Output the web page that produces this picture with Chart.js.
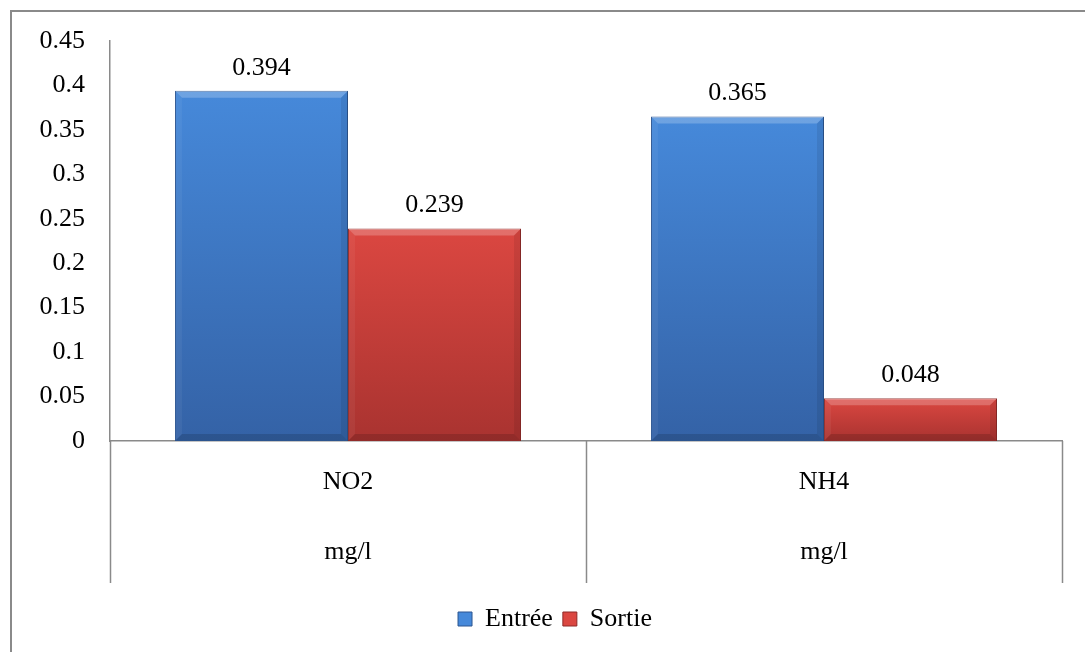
<!DOCTYPE html>
<html lang="fr">
<head>
<meta charset="utf-8">
<title>NO2 / NH4 - Entrée / Sortie</title>
<script src="https://cdn.jsdelivr.net/npm/chart.js@4/dist/chart.umd.min.js"></script>
<style>
    html, body { margin: 0; padding: 0; background: #ffffff; }
    #chart { display: block; }
</style>
</head>
<body>
<canvas id="chart" width="1085" height="652"></canvas>
<script>
// ==================== ДАННЫЕ ====================

const categories = ['NO2', 'NH4'];
const units = ['mg/l', 'mg/l'];
const entreeValues = [0.394, 0.365];
const sortieValues = [0.239, 0.048];
const yTicks = [0, 0.05, 0.1, 0.15, 0.2, 0.25, 0.3, 0.35, 0.4, 0.45];

const FONT = "'Liberation Serif', 'Times New Roman', serif";
const GRAY = '#8a8a8a';
const BLUE = ['#4689da', '#3462a6'];
const RED = ['#db4741', '#a93330'];

// градиент сверху вниз по каждому столбцу
function barGradient(context, topColor, bottomColor) {
    const chart = context.chart;
    const area = chart.chartArea;
    if (!area || typeof context.raw !== 'number') return topColor;
    const yScale = chart.scales.y;
    const yTop = yScale.getPixelForValue(context.raw);
    const yBase = yScale.getPixelForValue(0);
    const g = chart.ctx.createLinearGradient(0, yTop, 0, yBase);
    g.addColorStop(0, topColor);
    g.addColorStop(1, bottomColor);
    return g;
}

// ==================== ПЛАГИНЫ ====================

// рамка вокруг всей диаграммы
const framePlugin = {
    id: 'frame',
    beforeDraw(chart) {
        const ctx = chart.ctx;
        ctx.save();
        ctx.fillStyle = '#ffffff';
        ctx.fillRect(0, 0, chart.width, chart.height);
        ctx.strokeStyle = GRAY;
        ctx.lineWidth = 2;
        ctx.strokeRect(11, 11, chart.width + 100, chart.height + 100);
        ctx.restore();
    }
};

// фаска на столбцах
const bevelPlugin = {
    id: 'bevel',
    afterDatasetsDraw(chart) {
        const ctx = chart.ctx;
        const b = 7;
        ctx.save();
        chart.data.datasets.forEach((ds, di) => {
            chart.getDatasetMeta(di).data.forEach(bar => {
                const l = bar.x - bar.width / 2;
                const r = bar.x + bar.width / 2;
                const t = Math.min(bar.y, bar.base);
                const btm = Math.max(bar.y, bar.base);
                const poly = (pts, color) => {
                    ctx.beginPath();
                    ctx.moveTo(pts[0][0], pts[0][1]);
                    for (let i = 1; i < pts.length; i++) ctx.lineTo(pts[i][0], pts[i][1]);
                    ctx.closePath();
                    ctx.fillStyle = color;
                    ctx.fill();
                };
                poly([[l, t], [r, t], [r - b, t + b], [l + b, t + b]], 'rgba(255,255,255,0.22)');
                poly([[l, t], [l + b, t + b], [l + b, btm - b], [l, btm]], 'rgba(255,255,255,0.05)');
                poly([[r, t], [r - b, t + b], [r - b, btm - b], [r, btm]], 'rgba(0,0,0,0.08)');
                poly([[l, btm], [l + b, btm - b], [r - b, btm - b], [r, btm]], 'rgba(0,0,0,0.14)');
            });
        });
        ctx.restore();
    }
};

// подписи значений над столбцами
const valueLabelsPlugin = {
    id: 'valueLabels',
    afterDatasetsDraw(chart) {
        const ctx = chart.ctx;
        ctx.save();
        ctx.font = '26px ' + FONT;
        ctx.fillStyle = '#000000';
        ctx.textAlign = 'center';
        ctx.textBaseline = 'middle';
        chart.data.datasets.forEach((ds, di) => {
            chart.getDatasetMeta(di).data.forEach((bar, i) => {
                ctx.fillText(String(ds.data[i]), bar.x, bar.y - 23);
            });
        });
        ctx.restore();
    }
};

// двухуровневые подписи категорий и разделители
const categoryTablePlugin = {
    id: 'categoryTable',
    afterDraw(chart) {
        const ctx = chart.ctx;
        const x = chart.scales.x;
        const top = chart.chartArea.bottom;
        const bottom = top + 142;
        ctx.save();
        ctx.strokeStyle = GRAY;
        ctx.lineWidth = 1.5;
        for (let i = 0; i <= categories.length; i++) {
            const px = Math.round(x.getPixelForValue(i - 0.5)) + 0.5;
            ctx.beginPath();
            ctx.moveTo(px, top);
            ctx.lineTo(px, bottom);
            ctx.stroke();
        }
        ctx.font = '26px ' + FONT;
        ctx.fillStyle = '#000000';
        ctx.textAlign = 'center';
        ctx.textBaseline = 'middle';
        categories.forEach((c, i) => {
            const cx = x.getPixelForValue(i);
            ctx.fillText(c, cx, top + 41);
            ctx.fillText(units[i], cx, top + 111);
        });
        ctx.restore();
    }
};

// ==================== ДИАГРАММА ====================

new Chart(document.getElementById('chart'), {
    type: 'bar',
    data: {
        labels: categories,
        datasets: [{
            label: 'Entrée',
            data: entreeValues,
            backgroundColor: ctx => barGradient(ctx, BLUE[0], BLUE[1]),
            borderColor: '#2c5590',
            borderWidth: 1,
            categoryPercentage: 0.727,
            barPercentage: 1
        }, {
            label: 'Sortie',
            data: sortieValues,
            backgroundColor: ctx => barGradient(ctx, RED[0], RED[1]),
            borderColor: '#8e2a28',
            borderWidth: 1,
            categoryPercentage: 0.727,
            barPercentage: 1
        }]
    },
    options: {
        responsive: false,
        animation: false,
        layout: {
            padding: { top: 41, left: 25, right: 0, bottom: 10 }
        },
        scales: {
            x: {
                grid: { display: false },
                border: { display: true, color: GRAY, width: 1.5 },
                ticks: { display: false },
                afterFit: scale => { scale.height = 155; }
            },
            y: {
                min: 0,
                max: 0.45,
                grid: { display: false, drawTicks: false },
                border: { display: true, color: GRAY, width: 1.5 },
                afterBuildTicks: scale => {
                    scale.ticks = yTicks.map(v => ({ value: v }));
                },
                ticks: {
                    padding: 25,
                    color: '#000000',
                    font: { family: FONT, size: 26 },
                    callback: v => String(v)
                },
                afterFit: scale => { scale.width = 85; }
            },
            yRight: {
                position: 'right',
                display: true,
                grid: { display: false, drawTicks: false },
                border: { display: false },
                ticks: { display: false },
                afterFit: scale => { scale.width = 23; }
            }
        },
        plugins: {
            legend: {
                position: 'bottom',
                labels: {
                    boxWidth: 14,
                    boxHeight: 14,
                    padding: 10,
                    color: '#000000',
                    font: { family: FONT, size: 26 },
                    generateLabels: chart => {
                        const colors = [BLUE[0], RED[0]];
                        const borders = ['#2c5590', '#8e2a28'];
                        return chart.data.datasets.map((ds, i) => ({
                            text: ds.label,
                            fillStyle: colors[i],
                            strokeStyle: borders[i],
                            lineWidth: 1,
                            fontColor: '#000000',
                            datasetIndex: i
                        }));
                    }
                }
            },
            tooltip: { enabled: false }
        }
    },
    plugins: [framePlugin, bevelPlugin, valueLabelsPlugin, categoryTablePlugin]
});
</script>
</body>
</html>
